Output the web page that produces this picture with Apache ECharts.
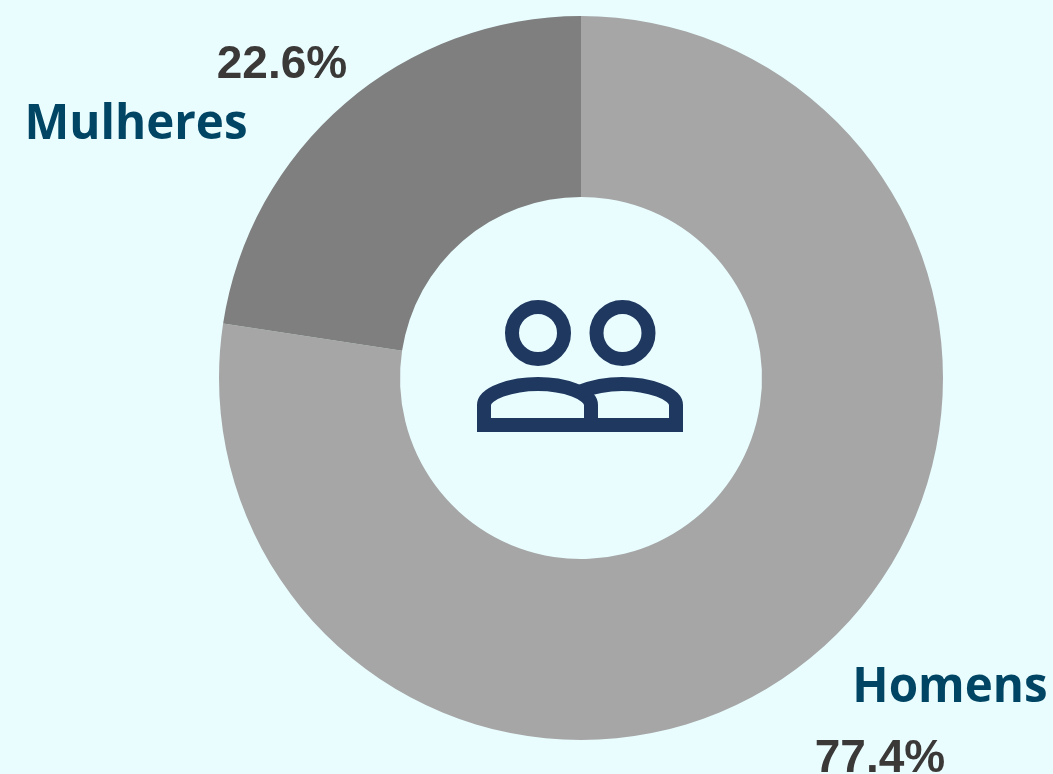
<!DOCTYPE html>
<html>
<head>
	<meta charset="utf-8">
	<title>Homens e Mulheres</title>
	<script src="https://cdn.jsdelivr.net/npm/echarts@6/dist/echarts.min.js"></script>
	<style>
		html, body { margin: 0; padding: 0; background: #E9FDFF; }
		#chart { width: 1053px; height: 774px; }
	</style>
</head>
<body>
<div id="chart"></div>
<script>
var categories = ['Homens', 'Mulheres'];
var values = [77.4, 22.6];
var colors = ['#A6A6A6', '#7F7F7F'];

// label places
var percentPos = [[880, 759], [282, 65]];
var namePos = [[950, 712], [136, 149]];

var iconColor = '#1F3860';
var nameColor = '#004563';

var chart = echarts.init(document.getElementById('chart'));

function nameText(i) {
	return {
		type: 'text',
		silent: true,
		style: {
			x: namePos[i][0],
			y: namePos[i][1],
			text: categories[i],
			fill: nameColor,
			font: 'bold 47.5px "Open Sans"',
			align: 'center',
			verticalAlign: 'bottom'
		}
	};
}

var iconStyle = { fill: 'none', stroke: iconColor, lineWidth: 14 };

function ring(cx) {
	return { type: 'circle', silent: true, shape: { cx: cx, cy: 333, r: 26 }, style: iconStyle };
}

function curve(x1, y1, cx1, cy1, cx2, cy2, x2, y2) {
	return {
		type: 'bezierCurve',
		silent: true,
		shape: { x1: x1, y1: y1, cpx1: cx1, cpy1: cy1, cpx2: cx2, cpy2: cy2, x2: x2, y2: y2 },
		style: iconStyle
	};
}

function lines(pts) {
	return { type: 'polyline', silent: true, shape: { points: pts }, style: iconStyle };
}

chart.setOption({
	backgroundColor: '#E9FDFF',
	animation: false,
	series: [{
		type: 'pie',
		center: [581, 378],
		radius: [181, 362],
		startAngle: 90,
		clockwise: true,
		silent: true,
		itemStyle: { borderWidth: 0 },
		labelLine: { show: false },
		label: {
			show: true,
			formatter: '{d}%',
			fontFamily: 'Liberation Sans',
			fontWeight: 'bold',
			fontSize: 46,
			color: '#3B3838'
		},
		labelLayout: function (params) {
			var p = percentPos[params.dataIndex];
			return { x: p[0], y: p[1], align: 'center', verticalAlign: 'middle' };
		},
		data: categories.map(function (c, i) {
			return { name: c, value: values[i], itemStyle: { color: colors[i] } };
		})
	}],
	graphic: [
		nameText(0),
		nameText(1),
		ring(538),
		ring(622.5),
		// left figure
		lines([[591, 405], [591, 425], [484, 425], [484, 405]]),
		curve(484, 405, 484, 393, 512, 384, 538, 384),
		curve(538, 384, 564, 384, 591, 393, 591, 405),
		// right figure
		lines([[676, 405], [676, 425], [591, 425]]),
		curve(622, 384, 648, 384, 676, 393, 676, 405),
		curve(579, 392, 592, 387, 606, 384, 622, 384)
	]
});
</script>
</body>
</html>
